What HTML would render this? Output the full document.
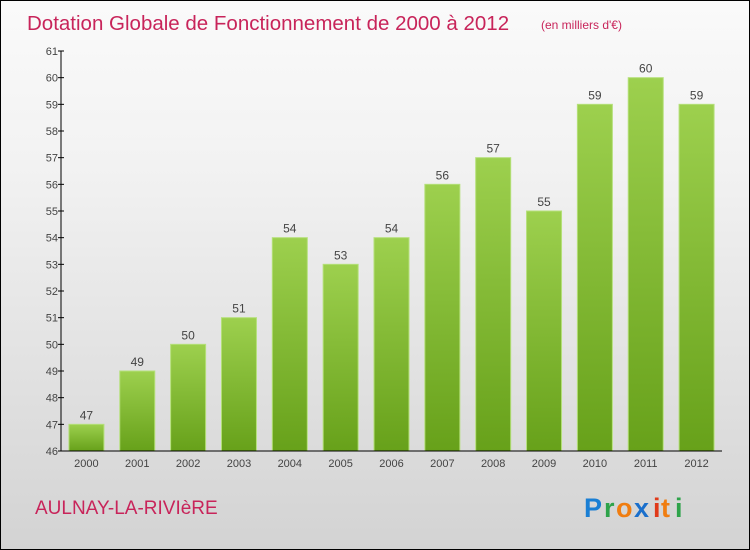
<!DOCTYPE html>
<html><head><meta charset="utf-8"><style>
body{margin:0}
#c{position:relative;width:748px;height:548px;border:1px solid #000;background:linear-gradient(#fafafa,#f2f2f2 30%,#d3d3d3);font-family:"Liberation Sans",sans-serif;overflow:hidden}
</style></head><body>
<div id="c">
<svg width="748" height="548" xmlns="http://www.w3.org/2000/svg" id="svg">
<defs><linearGradient id="g" x1="0" y1="0" x2="0" y2="1"><stop offset="0" stop-color="#9dd04e"/><stop offset="1" stop-color="#67a11a"/></linearGradient></defs>
<text x="26" y="29" font-size="20.5" fill="#c8245a">Dotation Globale de Fonctionnement de 2000 à 2012</text>
<text x="540" y="28" font-size="12" fill="#c8245a">(en milliers d'€)</text>
<text x="34" y="513" font-size="19" fill="#c8245a">AULNAY-LA-RIVIèRE</text>
<g font-size="27" font-weight="bold" font-family="Liberation Sans,sans-serif">
<text x="583" y="516" fill="#1a7fd4">P</text><text x="603" y="516" fill="#2ea34a">r</text><text x="615" y="516" fill="#f07d10">o</text><text x="633" y="516" fill="#1a6fcc">x</text><text x="652" y="516" fill="#e03a1a">i</text><text x="660" y="516" fill="#f07d10">t</text><text x="674" y="516" fill="#2ea34a">i</text>
</g>
<g id="plot"></g>
</svg>
</div>
<script>
const categories=["2000","2001","2002","2003","2004","2005","2006","2007","2008","2009","2010","2011","2012"];
const values=[47,49,50,51,54,53,54,56,57,55,59,60,59];
const yTicks=[46,47,48,49,50,51,52,53,54,55,56,57,58,59,60,61];
const yMin=46,yMax=61,pTop=50,pBottom=450,pLeft=60,pRight=721;
const ns="http://www.w3.org/2000/svg";
const g=document.getElementById('plot');
const yS=v=>pBottom-(v-yMin)/(yMax-yMin)*(pBottom-pTop);
const step=(pRight-pLeft)/categories.length;
const xS=i=>pLeft+step*(i+0.5);
function mk(t,a,txt){const e=document.createElementNS(ns,t);for(const k in a)e.setAttribute(k,a[k]);if(txt!=null)e.textContent=txt;g.appendChild(e);return e;}
values.forEach((v,i)=>{
 const b=mk('rect',{x:xS(i)-17.5,y:yS(v),width:35,height:pBottom-yS(v),fill:'url(#g)',stroke:'#b5e07a','stroke-width':1});
 
 
 const l=mk('text',{x:xS(i),y:yS(v)-5,'font-size':12,'text-anchor':'middle',fill:'#444'},String(v));
 
 
 const c=mk('text',{x:xS(i),y:466,'font-size':11,'text-anchor':'middle',fill:'#444'},categories[i]);
 
 
});
yTicks.forEach(t=>{
 const tk=mk('line',{x1:pLeft-3,x2:pLeft+3,y1:yS(t),y2:yS(t),stroke:'#000'});
 
 
 const l=mk('text',{x:pLeft-3,y:yS(t)+4,'font-size':11,'text-anchor':'end',fill:'#444'},String(t));
 
 
});
const ya=mk('line',{x1:pLeft,x2:pLeft,y1:pTop,y2:pBottom,stroke:'#000'});


const xa=mk('line',{x1:pLeft,x2:pRight,y1:pBottom,y2:pBottom,stroke:'#000'});


</script>
</body></html>
